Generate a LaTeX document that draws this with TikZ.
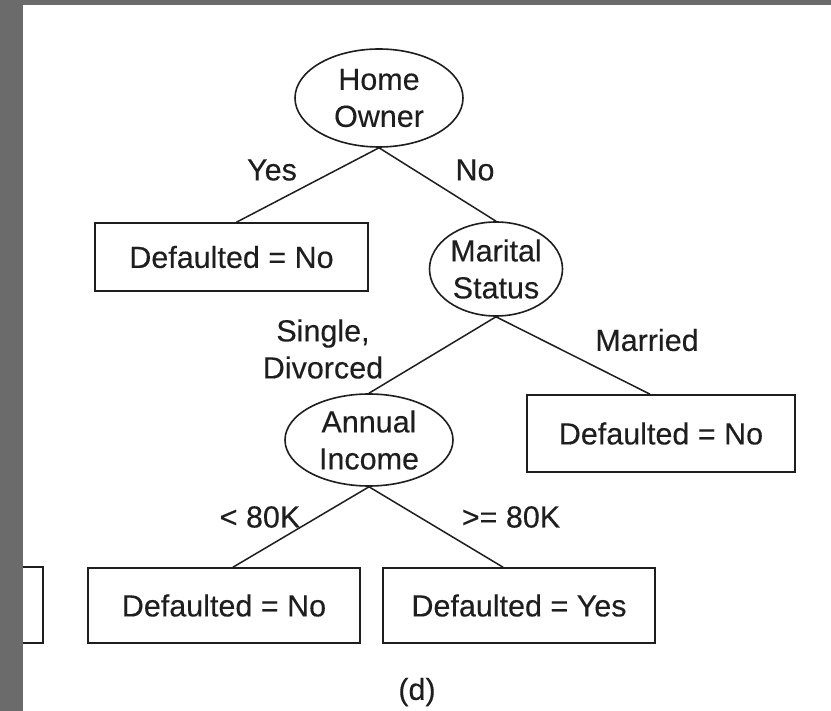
\documentclass[tikz,border=0pt]{standalone}
\usepackage{fontspec}
\setmainfont[FakeBold=0.25]{Liberation Sans}
\usetikzlibrary{shapes.geometric}
\definecolor{frame}{HTML}{6B6B6B}
\definecolor{ink}{HTML}{1E1E1E}
\begin{document}
\begin{tikzpicture}[x=1pt,y=-1pt,
  every node/.style={font=\fontsize{30.5}{37}\selectfont, text=ink},
  test/.style={draw=ink, line width=1.6pt, ellipse, inner sep=0pt, align=center},
  leaf/.style={draw=ink, line width=1.6pt, rectangle, inner sep=0pt},
  branch/.style={draw=ink, line width=1.5pt},
  lbl/.style={inner sep=0pt, align=center}]
\useasboundingbox (0,0) rectangle (831,711);
\fill[white] (0,0) rectangle (831,711);

% internal test nodes
\node[test, minimum width=168pt, minimum height=98pt] (ho) at (379,98) {Home\\Owner};
\node[test, minimum width=133pt, minimum height=94pt] (ms) at (496,269) {Marital\\Status};
\node[test, minimum width=168pt, minimum height=92pt] (ai) at (369,440) {Annual\\Income};

% leaf nodes
\node[leaf, minimum width=273pt, minimum height=68pt] (l1) at (231.5,257) {Defaulted = No};
\node[leaf, minimum width=268pt, minimum height=77pt] (l2) at (661,433.5) {Defaulted = No};
\node[leaf, minimum width=272pt, minimum height=75pt] (l3) at (224,605.5) {Defaulted = No};
\node[leaf, minimum width=272pt, minimum height=75pt] (l4) at (519,605.5) {Defaulted = Yes};

% neighbouring box cut off at the left edge
\node[leaf, minimum width=60pt, minimum height=76pt] (lx) at (13,605) {};

% branches
\draw[branch] (ho.south) -- ([xshift=5pt]l1.north);
\draw[branch] (ho.south) -- (ms.north);
\draw[branch] (ms.south) -- (ai.north);
\draw[branch] (ms.south) -- ([xshift=-11pt]l2.north);
\draw[branch] (ai.south) -- ([xshift=9pt]l3.north);
\draw[branch] (ai.south) -- ([xshift=-16pt]l4.north);

% branch labels
\node[lbl] (tyes) at (272,170) {Yes};
\node[lbl] (tno) at (475,170) {No};
\node[lbl] (tsd) at (323,349) {Single,\\Divorced};
\node[lbl] (tmar) at (647,340) {Married};
\node[lbl] (tlo) at (260,517) {< 80K};
\node[lbl] (thi) at (511,517) {>= 80K};
\node[lbl] (cap) at (417,692) {(d)};

% page frame
\fill[frame] (0,0) rectangle (23,711);
\fill[frame] (0,0) rectangle (831,5);
\end{tikzpicture}
\end{document}
